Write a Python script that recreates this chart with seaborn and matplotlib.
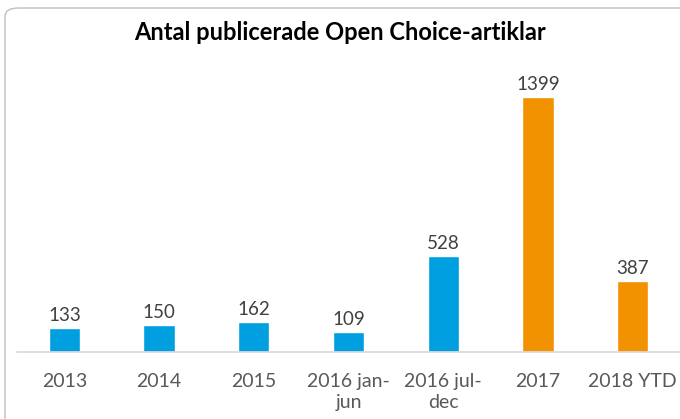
import matplotlib
matplotlib.use("Agg")
import matplotlib.pyplot as plt
from matplotlib.patches import FancyBboxPatch
import pandas as pd
import seaborn as sns

periods = ["2013", "2014", "2015", "2016 jan-\njun", "2016 jul-\ndec", "2017", "2018 YTD"]
articles = [133, 150, 162, 109, 528, 1399, 387]
groups = ["a", "a", "a", "a", "a", "b", "b"]

df = pd.DataFrame({"period": periods, "articles": articles, "group": groups})

sns.set_theme(style="white")
plt.rcParams["font.family"] = ["Lato", "DejaVu Sans"]

fig = plt.figure(figsize=(6.8, 4.19), dpi=100)
border = FancyBboxPatch((5 / 680, -0.05), 1.2, 1 - 8 / 419 + 0.05,
                        boxstyle="round,pad=0,rounding_size=0.02",
                        transform=fig.transFigure, facecolor="none",
                        edgecolor="#BFBFBF", linewidth=1.0, zorder=0)
fig.patches.append(border)

ax = fig.add_axes([17 / 680, 1 - 352 / 419, 663 / 680, 0.70])
ax.patch.set_alpha(0)
sns.barplot(data=df, x="period", y="articles", hue="group", dodge=False,
            palette={"a": "#009FDF", "b": "#F39200"}, width=0.33,
            saturation=1, legend=False, ax=ax)

for c in ax.containers:
    ax.bar_label(c, fmt="%d", padding=3, fontsize=13.5, color="#404040")

ax.set_ylim(0, 1610)
ax.set_xlim(-0.5, 6.5)
ax.set_xlabel("")
ax.set_ylabel("")
ax.set_yticks([])
for s in ["left", "right", "top"]:
    ax.spines[s].set_visible(False)
ax.spines["bottom"].set_color("#D9D9D9")
ax.tick_params(axis="x", length=0, pad=15, labelsize=14, labelcolor="#595959")
for t in ax.get_xticklabels():
    t.set_linespacing(1.3)

fig.text(0.5, 1 - 32 / 419, "Antal publicerade Open Choice-artiklar",
         ha="center", va="center", fontsize=17, fontweight="bold", color="black")

fig.savefig("out.png", dpi=100)
